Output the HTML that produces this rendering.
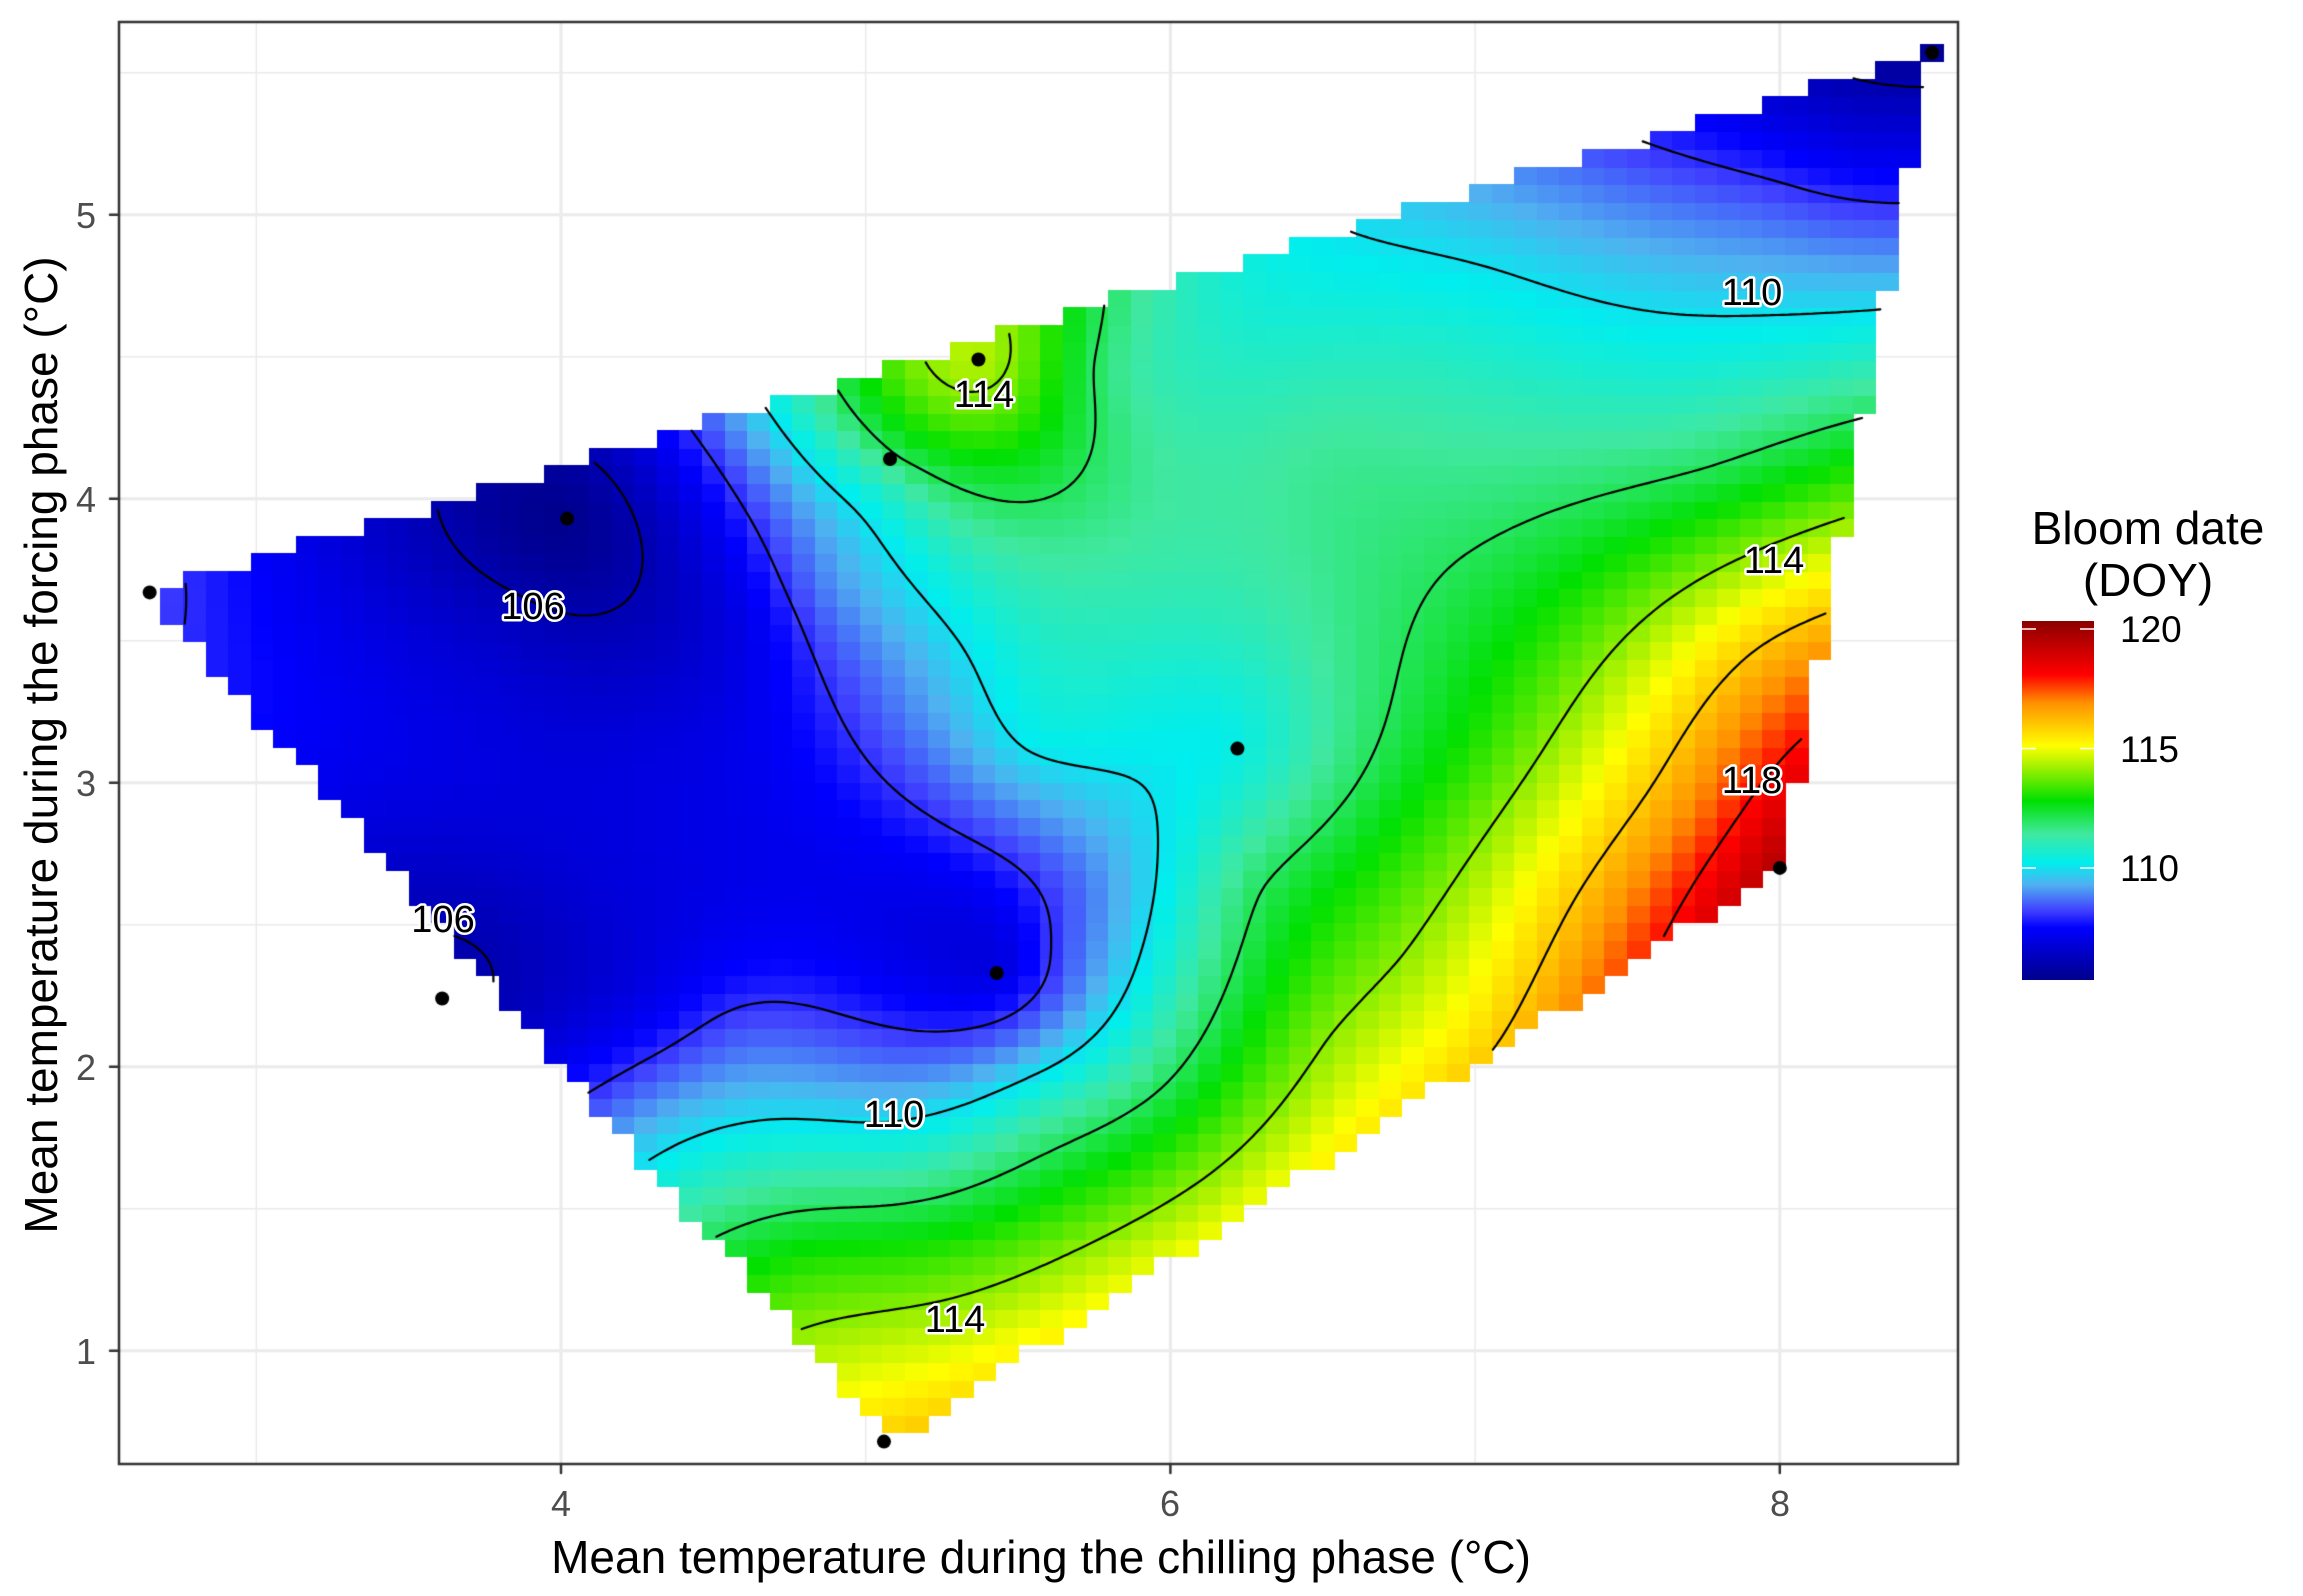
<!DOCTYPE html>
<html><head><meta charset="utf-8"><style>
html,body{margin:0;padding:0;background:#fff;}
#wrap{position:relative;width:2303px;height:1596px;overflow:hidden;font-family:"Liberation Sans",Arial,sans-serif;}
canvas,svg{position:absolute;left:0;top:0;}
</style></head><body><div id="wrap">
<canvas id="c" width="2303" height="1596"></canvas>
<svg id="s" width="2303" height="1596" xmlns="http://www.w3.org/2000/svg" font-family="Liberation Sans, Arial, sans-serif">
<defs><linearGradient id="lg" x1="0" y1="1" x2="0" y2="0">
<stop offset="0" stop-color="#00008B"/><stop offset="0.146" stop-color="#0000FF"/><stop offset="0.193" stop-color="#4040FF"/>
<stop offset="0.266" stop-color="#50B0F0"/><stop offset="0.326" stop-color="#00EEEE"/><stop offset="0.406" stop-color="#40E8A0"/>
<stop offset="0.499" stop-color="#00E000"/><stop offset="0.592" stop-color="#A0F000"/><stop offset="0.652" stop-color="#FFFF00"/>
<stop offset="0.772" stop-color="#FF9000"/><stop offset="0.851" stop-color="#FF0000"/><stop offset="1" stop-color="#8B0000"/>
</linearGradient></defs>
<g font-size="36" fill="#4d4d4d">
<text x="96" y="228" text-anchor="end">5</text>
<text x="96" y="512" text-anchor="end">4</text>
<text x="96" y="796" text-anchor="end">3</text>
<text x="96" y="1080" text-anchor="end">2</text>
<text x="96" y="1364" text-anchor="end">1</text>
<text x="561" y="1516" text-anchor="middle">4</text>
<text x="1170" y="1516" text-anchor="middle">6</text>
<text x="1780" y="1516" text-anchor="middle">8</text>
</g>
<text x="1041" y="1573" font-size="46" text-anchor="middle" fill="#000">Mean temperature during the chilling phase (°C)</text>
<text transform="translate(57,745) rotate(-90)" font-size="46" text-anchor="middle" fill="#000">Mean temperature during the forcing phase (°C)</text>
<text x="2148" y="544" font-size="46" text-anchor="middle">Bloom date</text>
<text x="2148" y="596" font-size="46" text-anchor="middle">(DOY)</text>
<rect x="2022" y="621" width="72" height="359" fill="url(#lg)"/>
<g stroke="#fff" stroke-width="1.5">
<line x1="2022" y1="629" x2="2036" y2="629"/><line x1="2080" y1="629" x2="2094" y2="629"/>
<line x1="2022" y1="748.5" x2="2036" y2="748.5"/><line x1="2080" y1="748.5" x2="2094" y2="748.5"/>
<line x1="2022" y1="868" x2="2036" y2="868"/><line x1="2080" y1="868" x2="2094" y2="868"/>
</g>
<g font-size="37" fill="#000">
<text x="2120" y="642">120</text><text x="2120" y="762">115</text><text x="2120" y="881">110</text>
</g>
<g font-size="38" text-anchor="middle" fill="#000" stroke="#fff" stroke-width="5" paint-order="stroke" stroke-linejoin="round">
<text x="533" y="619">106</text>
<text x="443" y="932">106</text>
<text x="984" y="407">114</text>
<text x="1752" y="305">110</text>
<text x="1774" y="573">114</text>
<text x="1752" y="793">118</text>
<text x="894" y="1127">110</text>
<text x="955" y="1332">114</text>
</g>
</svg>
<script>
(function(){
var cv=document.getElementById('c'),g=cv.getContext('2d');
function PX(x){return 561+(x-4)*304.7;} function PY(y){return 498.7-(y-4)*284;}
var L=119,T=22,R=1958,B=1464;
g.fillStyle='#fff';g.fillRect(0,0,2303,1596);
g.strokeStyle='#ebebeb';
g.lineWidth=1.5;
[3,5,7].forEach(function(x){g.beginPath();g.moveTo(PX(x),T);g.lineTo(PX(x),B);g.stroke();});
[1.5,2.5,3.5,4.5,5.5].forEach(function(y){g.beginPath();g.moveTo(L,PY(y));g.lineTo(R,PY(y));g.stroke();});
g.lineWidth=3;
[4,6,8].forEach(function(x){g.beginPath();g.moveTo(PX(x),T);g.lineTo(PX(x),B);g.stroke();});
[1,2,3,4,5].forEach(function(y){g.beginPath();g.moveTo(L,PY(y));g.lineTo(R,PY(y));g.stroke();});
var P=[[2.65,3.67,108.3],[4.02,3.93,105.2],[3.6,2.26,105.6],[5.1,0.7,116],[5.1,4.14,112.2],[5.4,4.49,114.6],[5.45,2.35,106.5],[6.22,3.14,110.2],[8.0,2.71,119.6],[8.5,5.57,105.5],
[4.34,3.16,106.9],[4.1,2.64,106.8],[4.68,3.57,107.3],[4.87,3.68,109],[5.26,3.42,109.6],[5.55,3.16,110.4],[5.79,2.64,109],[5.65,2.43,108.5],[5.31,2.38,107],[4.78,2.38,107.5],
[4.58,2.12,108.5],[4.34,1.81,109.5],[5.07,1.75,110.3],[5.55,1.86,111],[4.82,1.34,113],[5.31,1.08,114.5],[6.03,1.86,112.5],[6.52,2.12,114],[6.28,2.64,112],[6.52,3.42,111.5],
[7.0,3.16,113],[7.0,3.94,111.8],[7.73,4.2,111.5],[7.97,4.09,112.5],[7.49,3.42,114.3],[7.25,2.64,115.5],[7.73,2.9,117],[6.76,2.38,114],[7.0,2.12,115.5],[7.97,3.42,116.5],
[7.0,4.72,110.3],[6.28,4.72,110.5],[5.79,4.46,111.5],[6.52,4.2,111.5],[7.97,5.03,108.5],[8.21,5.24,107],[5.07,4.04,110.5],[5.55,4.25,113],[3.81,3.57,106.4],[3.13,3.16,107.4],
[2.89,3.57,107.7],[3.61,2.38,105.9],[5.07,0.77,115.5],[3.6,3.0,107],[4.4,3.8,106.5],[4.3,2.2,107.1]];
var n=P.length,N=n+3,A=[],i,j,k;
function U(r){return r<1e-9?0:r*r*Math.log(r);}
for(i=0;i<N;i++){A.push(new Array(N+1).fill(0));}
for(i=0;i<n;i++){for(j=0;j<n;j++){A[i][j]=U(Math.hypot(P[i][0]-P[j][0],P[i][1]-P[j][1]));}
A[i][i]+=0.04;A[i][n]=1;A[i][n+1]=P[i][0];A[i][n+2]=P[i][1];A[n][i]=1;A[n+1][i]=P[i][0];A[n+2][i]=P[i][1];A[i][N]=P[i][2];}
for(i=0;i<N;i++){var m=i;for(k=i+1;k<N;k++)if(Math.abs(A[k][i])>Math.abs(A[m][i]))m=k;var t=A[i];A[i]=A[m];A[m]=t;
for(k=i+1;k<N;k++){var f=A[k][i]/A[i][i];for(j=i;j<=N;j++)A[k][j]-=f*A[i][j];}}
var w=new Array(N);for(i=N-1;i>=0;i--){var s=A[i][N];for(j=i+1;j<N;j++)s-=A[i][j]*w[j];w[i]=s/A[i][i];}
function F(x,y){var s=w[n]+w[n+1]*x+w[n+2]*y;for(var q=0;q<n;q++)s+=w[q]*U(Math.hypot(x-P[q][0],y-P[q][1]));return s;}
var H=[[2.65,3.67],[5.08,0.68],[8.0,2.70],[8.5,5.57]];
function inside(x,y){for(var q=0;q<4;q++){var a=H[q],b=H[(q+1)%4];if((b[0]-a[0])*(y-a[1])-(b[1]-a[1])*(x-a[0])<-1e-9)return false;}return true;}
var S=[[105.3,[0,0,139]],[107.5,[0,0,255]],[108.2,[64,64,255]],[109.3,[80,176,240]],[110.2,[0,238,238]],[111.4,[64,232,160]],[112.8,[0,224,0]],[114.2,[160,240,0]],[115.1,[255,255,0]],[116.9,[255,144,0]],[118.1,[255,0,0]],[120.3,[139,0,0]]];
function col(v){if(v<=S[0][0])return S[0][1];for(var q=1;q<S.length;q++){if(v<=S[q][0]){var t=(v-S[q-1][0])/(S[q][0]-S[q-1][0]),a=S[q-1][1],b=S[q][1];return [a[0]+(b[0]-a[0])*t,a[1]+(b[1]-a[1])*t,a[2]+(b[2]-a[2])*t];}}return S[S.length-1][1];}
var nx=80,ny=80,x0=2.65,x1=8.5,y0=0.68,y1=5.57,dx=(x1-x0)/(nx-1),dy=(y1-y0)/(ny-1);
for(i=0;i<nx;i++)for(j=0;j<ny;j++){var x=x0+i*dx,y=y0+j*dy;if(!inside(x,y))continue;var c=col(F(x,y));
g.fillStyle='rgb('+Math.round(c[0])+','+Math.round(c[1])+','+Math.round(c[2])+')';
var a=Math.floor(PX(x-dx/2)),b=Math.floor(PY(y+dy/2)),e=Math.ceil(PX(x+dx/2)),h=Math.ceil(PY(y-dy/2));g.fillRect(a,b,e-a,h-b);}
var st=0.02,cx=Math.ceil((x1-x0)/st)+1,cy=Math.ceil((y1-y0)/st)+1,Z=[];
for(i=0;i<cx;i++){Z.push([]);for(j=0;j<cy;j++){var x=x0+i*st,y=y0+j*st;Z[i].push(inside(x,y)?F(x,y):NaN);}}
g.strokeStyle='#000';g.lineWidth=2.2;g.lineCap='round';
[106,108,110,112,114,116,118].forEach(function(lv){g.beginPath();
for(i=0;i<cx-1;i++)for(j=0;j<cy-1;j++){var v=[Z[i][j],Z[i+1][j],Z[i+1][j+1],Z[i][j+1]];if(v.some(isNaN))continue;
var cr=[[0,0],[1,0],[1,1],[0,1]],pts=[];
for(var q=0;q<4;q++){var a=v[q],b=v[(q+1)%4];if((a<lv)!=(b<lv)){var t=(lv-a)/(b-a),p=cr[q],r=cr[(q+1)%4];pts.push([x0+(i+p[0]+(r[0]-p[0])*t)*st,y0+(j+p[1]+(r[1]-p[1])*t)*st]);}}
for(var q=0;q+1<pts.length;q+=2){g.moveTo(PX(pts[q][0]),PY(pts[q][1]));g.lineTo(PX(pts[q+1][0]),PY(pts[q+1][1]));}}
g.stroke();});
g.fillStyle='#000';
[[2.65,3.67],[4.02,3.93],[3.61,2.24],[5.06,0.68],[5.08,4.14],[5.37,4.49],[5.43,2.33],[6.22,3.12],[8.0,2.70],[8.5,5.57]].forEach(function(p){g.beginPath();g.arc(PX(p[0]),PY(p[1]),7,0,7);g.fill();});
g.strokeStyle='#333';g.lineWidth=2.5;g.strokeRect(L,T,R-L,B-T);
g.beginPath();[4,6,8].forEach(function(x){g.moveTo(PX(x),B);g.lineTo(PX(x),B+9);});
[1,2,3,4,5].forEach(function(y){g.moveTo(L,PY(y));g.lineTo(L-9,PY(y));});g.stroke();
})();
</script>
</div></body></html>
